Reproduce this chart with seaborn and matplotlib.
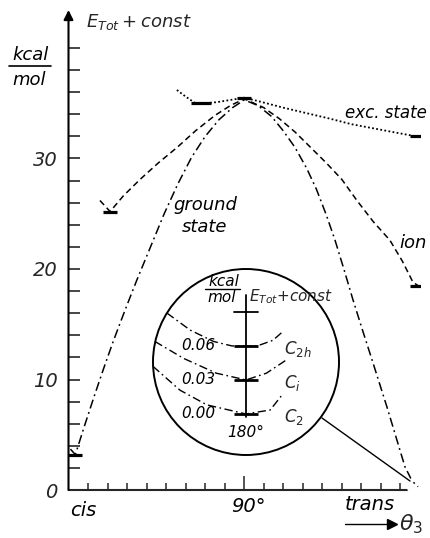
import numpy as np
import pandas as pd
import seaborn as sns
import matplotlib.pyplot as plt
from matplotlib.patches import Circle, Ellipse
from matplotlib.lines import Line2D

# ground state (dash-dot), angle in degrees, energy in kcal/mol
ground_x = [1, 3.5, 8, 13, 18, 23, 29, 35, 42, 49, 56, 63, 70, 77, 84, 90,
            97, 104, 110, 116, 122, 127, 132, 136.5, 141, 145.7, 150.5, 155.4, 163.1,
            172.3, 176, 179]
ground_y = [3.7, 3.2, 5.7, 8.4, 11.0, 13.5, 16.3, 19.0, 22.0, 25.0, 27.7, 30.1, 32.0, 33.5,
            34.6, 35.3,
            34.8, 33.8, 32.5, 31.0, 29.1, 27.2, 24.9, 22.6, 20.0, 17.2, 14.5, 11.8, 7.5,
            2.1, 0.8, 0.3]

# ion (dashed)
ion_x = [16.1, 21.3, 28, 36.6, 46, 55.6, 65, 75, 83, 90,
         100, 108, 116, 124, 132, 140, 147.7, 156, 164.6, 171, 176.4, 179]
ion_y = [26.2, 25.2, 26.6, 28.1, 29.6, 31.0, 32.5, 33.9, 34.8, 35.4,
         34.6, 33.6, 32.4, 31.0, 29.6, 28.1, 26.2, 24.3, 22.6, 20.7, 18.8, 18.5]

# excited state (dotted)
exc_x = [55.5, 60, 65, 70, 76, 83, 90, 97, 110, 122, 134, 145, 160, 172, 178]
exc_y = [36.2, 35.6, 35.0, 35.0, 35.1, 35.3, 35.5, 35.2, 34.6, 34.1, 33.6, 33.1, 32.6, 32.2, 32.0]

# minima / end points marked with a bar
mark_x = [3.5, 21.3, 90, 178.5, 178.5]
mark_y = [3.2, 25.2, 35.5, 18.5, 32.0]
flat_x = [68]
flat_y = [35.0]

# inset near 180 deg (kcal/mol)
c2h_x = [171.5, 174.0, 176.5, 178.5, 180.0, 181.2, 182.9, 184.0]
c2h_y = [0.089, 0.074, 0.064, 0.060, 0.060, 0.060, 0.065, 0.073]
ci_x = [170.2, 173.3, 176.8, 180.0, 182.2, 184.4]
ci_y = [0.064, 0.049, 0.036, 0.030, 0.036, 0.048]
c2_x = [170.0, 172.9, 175.8, 180.0, 182.6, 184.0]
c2_y = [0.042, 0.021, 0.008, 0.000, 0.0035, 0.018]
inset_levels = [0.06, 0.03, 0.00]
inset_labels = ['0.06', '0.03', '0.00']
inset_names = [r'$C_{2h}$', r'$C_{i}$', r'$C_{2}$']

sns.set_style("white")
plt.rcParams['font.family'] = ['DejaVu Sans']
plt.rcParams['mathtext.fontset'] = 'dejavusans'

W, H = 430, 538
fig = plt.figure(figsize=(W / 100, H / 100), dpi=100)


def fx(px):
    return px / W


def fy(py):
    return 1 - py / H


ax = fig.add_axes([fx(68.5), fy(490), (420 - 68.5) / W, (490 - 10) / H])
ax.set_xlim(0, 180)
ax.set_ylim(0, 480 / 11.05)
ax.patch.set_alpha(0)

dashdot = (0, (6, 2.5, 1.2, 2.5))
lw = 1.1
sns.lineplot(x=ground_x, y=ground_y, ax=ax, color='k', lw=lw, linestyle=dashdot,
             sort=False, estimator=None)
sns.lineplot(x=ion_x, y=ion_y, ax=ax, color='k', lw=lw, linestyle=(0, (4, 2.5)),
             sort=False, estimator=None)
sns.lineplot(x=exc_x, y=exc_y, ax=ax, color='k', lw=1.3, linestyle=(0, (1, 1.3)),
             sort=False, estimator=None)
sns.scatterplot(x=mark_x, y=mark_y, ax=ax, marker='_', s=90, linewidth=2.3, color='k',
                zorder=5)
sns.scatterplot(x=flat_x, y=flat_y, ax=ax, marker='_', s=200, linewidth=2.3, color='k',
                zorder=5)

# axes
for s in ['top', 'right', 'left']:
    ax.spines[s].set_visible(False)
ax.spines['bottom'].set_linewidth(1.5)
ax.spines['bottom'].set_bounds(0, 174)
ax.annotate('', xy=(0, 480 / 11.05), xytext=(0, 0), xycoords='data',
            arrowprops=dict(arrowstyle='-|>', color='k', lw=1.5, mutation_scale=14,
                            shrinkA=0, shrinkB=0),
            annotation_clip=False)

yt = list(range(0, 41, 2))
ax.set_yticks(yt)
ax.set_yticklabels([str(v) if v in (0, 10, 20, 30) else '' for v in yt],
                   fontsize=14, fontstyle='italic')
ax.tick_params(axis='y', direction='in', length=8, width=1.2, pad=8, left=True)
ax.set_xticks(list(range(10, 171, 10)))
ax.set_xticklabels([])
ax.tick_params(axis='x', direction='in', length=5, width=1.1, bottom=True)
ax.xaxis.get_major_ticks()[8].tick1line.set_markersize(10)

it = dict(fontstyle='italic', color='k')
fig.text(fx(30), fy(55), 'kcal', fontsize=13, ha='center', va='center', **it)
fig.add_artist(Line2D([fx(9), fx(51)], [fy(66), fy(66)], color='k', lw=1.2))
fig.text(fx(29), fy(80), 'mol', fontsize=13, ha='center', va='center', **it)
fig.text(fx(86), fy(22), r'$E_{Tot}+const$', fontsize=13, ha='left', va='center')
fig.text(fx(205), fy(205), 'ground', fontsize=13, ha='center', va='center', **it)
fig.text(fx(205), fy(227), 'state', fontsize=13, ha='center', va='center', **it)
fig.text(fx(386), fy(113), 'exc. state', fontsize=12, ha='center', va='center', **it)
fig.text(fx(413), fy(243), 'ion', fontsize=13, ha='center', va='center', **it)
fig.text(fx(83), fy(510), 'cis', fontsize=14, ha='center', va='center', **it)
fig.text(fx(248), fy(506), '90°', fontsize=14, ha='center', va='center', **it)
fig.text(fx(370), fy(505), 'trans', fontsize=14, ha='center', va='center', **it)
fig.add_artist(Line2D([fx(345), fx(392)], [fy(524), fy(524)], color='k', lw=1.0))
fig.add_artist(Line2D([fx(392)], [fy(524)], marker='>', color='k', markersize=7))
fig.text(fx(399), fy(524), r'$\theta_3$', fontsize=16, ha='left', va='center')

# small circle at trans end and connector
fig.add_artist(Ellipse((fx(419), fy(487)), 22 / W, 22 / H, fill=False, lw=1.2,
                       transform=fig.transFigure))
fig.add_artist(Line2D([fx(322), fx(410)], [fy(418), fy(481)], color='k', lw=1.0))

# inset
ax_in = fig.add_axes([fx(153), fy(455), 186 / W, 186 / H])
ax_in.set_xlim(170, 190)
ax_in.set_ylim(-0.0362, 0.1279)
ax_in.axis('off')
ax_in.add_patch(Circle((0.5, 0.5), 0.5, transform=ax_in.transAxes, fill=False,
                       lw=1.4, color='k', clip_on=False))
for xs, ys in [(c2h_x, c2h_y), (ci_x, ci_y), (c2_x, c2_y)]:
    sns.lineplot(x=xs, y=ys, ax=ax_in, color='k', lw=1.0, linestyle=dashdot,
                 sort=False, estimator=None)
sns.scatterplot(x=[180] * 3, y=inset_levels, ax=ax_in, marker='_', s=300,
                linewidth=2.0, color='k', zorder=5)
ax_in.plot([180, 180], [-0.003, 0.105], color='k', lw=1.3)
ax_in.plot([178.7, 181.3], [0.09, 0.09], color='k', lw=1.3)
for lev, lab, name in zip(inset_levels, inset_labels, inset_names):
    ax_in.text(174.9, lev, lab, fontsize=11, ha='center', va='center', **it)
    ax_in.text(184.1, lev - 0.003, name, fontsize=12, ha='left', va='center')
ax_in.text(180, -0.0167, '180°', fontsize=11, ha='center', va='center', **it)
fig.text(fx(224), fy(281), 'kcal', fontsize=11, ha='center', va='center', **it)
fig.add_artist(Line2D([fx(205), fx(240)], [fy(289), fy(289)], color='k', lw=1.0))
fig.text(fx(222), fy(297), 'mol', fontsize=11, ha='center', va='center', **it)
fig.text(fx(249), fy(297), r'$E_{Tot}$+$const$', fontsize=11, ha='left', va='center')

fig.savefig('out.png', dpi=100, facecolor='white')
